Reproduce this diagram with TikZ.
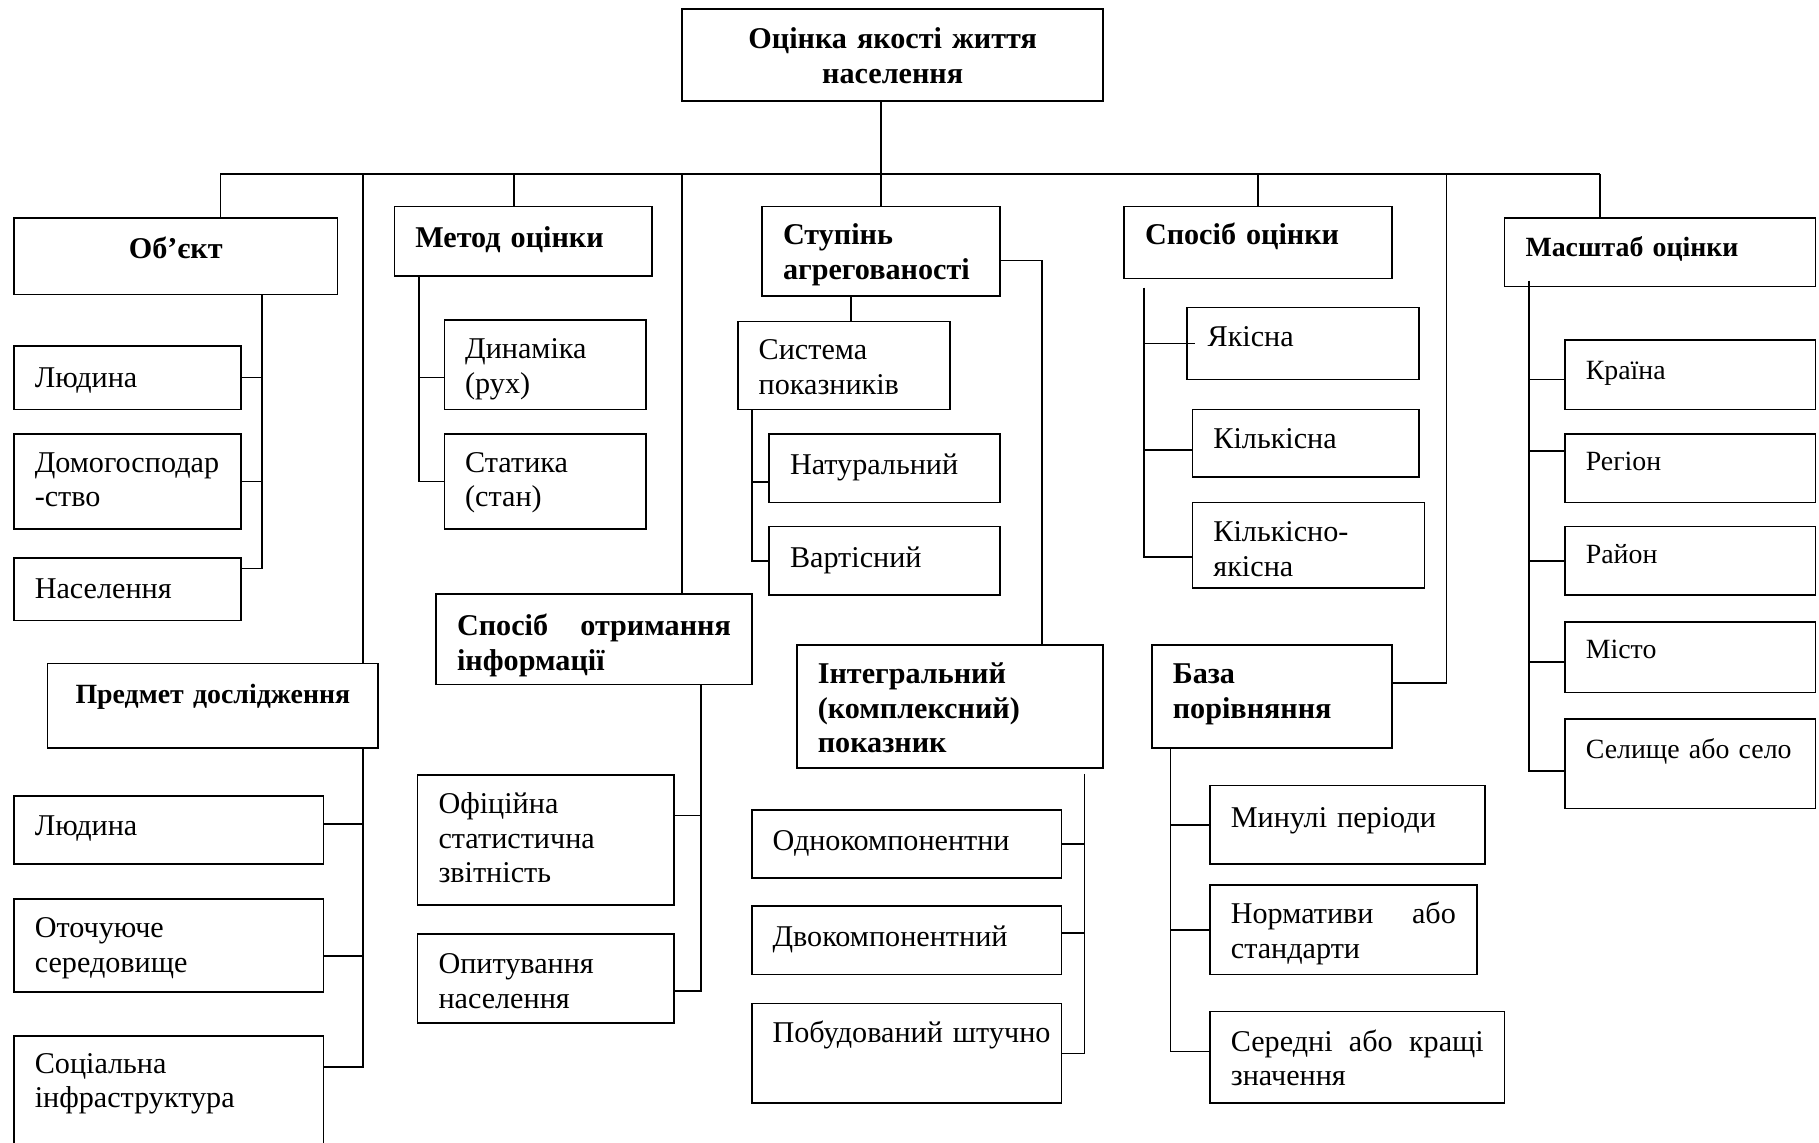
\documentclass[tikz,border=0pt]{standalone}
\usepackage{fontspec}
\setmainfont{Liberation Serif}

\newcommand{\leaffont}{\fontsize{26}{30}\selectfont}
\newcommand{\headfont}{\fontsize{26}{30}\selectfont\bfseries}
\newcommand{\rfont}{\fontsize{24}{28}\selectfont}
\newcommand{\rhead}{\fontsize{24}{28}\selectfont\bfseries}

\tikzset{
  cell/.style n args={3}{text width=#1pt, text height=#2pt, text depth=#3pt},
  box/.style={draw, line width=1.4pt, anchor=base west, inner xsep=18pt, inner ysep=0pt,
    outer sep=0pt, align=left, font=\leaffont},
  head/.style={box, font=\headfont},
  link/.style={line width=1.4pt}
}

\begin{document}
\begin{tikzpicture}[x=1pt, y=-1pt]
  \useasboundingbox (0,0) rectangle (1568,985);

  % root
  \node[head, align=center, cell={327}{34}{45}] (root) at (588,42) {Оцінка якості життя\\населення};

  % object
  \node[head, align=center, cell={243}{35}{31}] (obj) at (12,223) {Об’єкт};
  \node[box, cell={160}{36}{19}] (o1) at (12,334) {Людина};
  \node[box, cell={160}{33}{49}] (o2) at (12,407) {Домогосподар\\-ство};
  \node[box, cell={160}{35}{19}] (o3) at (12,516) {Населення};

  % method
  \node[head, cell={186}{35}{25}] (met) at (340,213) {Метод оцінки};
  \node[box, cell={138}{33}{44}] (m1) at (383,309) {Динаміка\\(рух)};
  \node[box, cell={138}{33}{49}] (m2) at (383,407) {Статика\\(стан)};

  % information
  \node[head, cell={236}{36}{42}] (inf) at (376,548) {Спосіб\hfill отримання\\інформації};
  \node[box, cell={185}{33}{79}] (i1) at (360,701) {Офіційна\\статистична\\звітність};
  \node[box, cell={185}{34}{43}] (i2) at (360,839) {Опитування\\населення};

  % subject
  \node[head, font=\rhead, align=center, cell={249}{34}{39}] (pred) at (41,606) {Предмет дослідження};
  \node[box, cell={231}{34}{25}] (p1) at (12,720) {Людина};
  \node[box, cell={231}{33}{47}] (p2) at (12,808) {Оточуюче\\середовище};
  \node[box, cell={231}{32}{62}] (p3) at (12,925) {Соціальна\\інфраструктура};

  % aggregation
  \node[head, cell={169}{33}{44}] (st) at (657,211) {Ступінь\\агрегованості};
  \node[box, cell={147}{33}{43}] (sys) at (636,310) {Система\\показників};
  \node[box, cell={163}{35}{24}] (s1) at (663,409) {Натуральний};
  \node[box, cell={163}{35}{24}] (s2) at (663,489) {Вартісний};

  \node[head, cell={228}{33}{73}] (intg) at (687,589) {Інтегральний\\(комплексний)\\показник};
  \node[box, cell={231}{35}{24}] (g1) at (648,733) {Однокомпонентни};
  \node[box, cell={231}{35}{24}] (g2) at (648,816) {Двокомпонентний};
  \node[box, cell={231}{34}{52}] (g3) at (648,899) {\mbox{Побудований штучно}};

  % way of assessment
  \node[head, cell={195}{33}{29}] (spo) at (969,211) {Спосіб оцінки};
  \node[box, cell={164}{34}{28}] (c1) at (1023,299) {Якісна};
  \node[box, cell={159}{34}{24}] (c2) at (1028,387) {Кількісна};
  \node[box, cell={164}{34}{40}] (c3) at (1028,467) {Кількісно-\\якісна};

  % comparison base
  \node[head, cell={171}{33}{56}] (baz) at (993,589) {База\\порівняння};
  \node[box, cell={201}{36}{32}] (b1) at (1043,713) {Минулі періоди};
  \node[box, cell={194}{33}{44}] (b2) at (1043,796) {Нормативи\hfill або\\стандарти};
  \node[box, cell={218}{34}{45}] (b3) at (1043,906) {Середні\hfill або\hfill кращі\\значення};

  % scale
  \node[head, font=\rhead, cell={232}{33}{26}] (mas) at (1297,221) {Масштаб оцінки};
  \node[box, font=\rfont, cell={180}{34}{26}] (k1) at (1349,327) {Країна};
  \node[box, font=\rfont, cell={180}{32}{27}] (k2) at (1349,406) {Регіон};
  \node[box, font=\rfont, cell={180}{32}{27}] (k3) at (1349,486) {Район};
  \node[box, font=\rfont, cell={180}{32}{29}] (k4) at (1349,568) {Місто};
  \node[box, font=\rfont, cell={180}{34}{43}] (k5) at (1349,654) {Селище або село};

  % bus
  \coordinate (bl) at (190,150);
  \coordinate (br) at (1379,150);
  \coordinate (bp) at (313,150);
  \coordinate (bm) at (443,150);
  \coordinate (bi) at (588,150);
  \coordinate (bb) at (1247,150);
  \draw[link] (root.south -| st.north) -- (st.north);
  \draw[link] (bl) -- (br);
  \draw[link] (bl) -- (bl |- obj.north);
  \draw[link] (bp) -- (bp |- pred.north);
  \draw[link] (bm) -- (bm |- met.north);
  \draw[link] (bi) -- (bi |- inf.north);
  \draw[link] (spo.north |- bl) -- (spo.north);
  \draw[link] (bb) |- ([yshift=12pt]baz.east);
  \draw[link] (br) -- (br |- mas.north);

  % object
  \coordinate (so) at (226,0);
  \draw[link] (obj.south -| so) |- ([yshift=-9pt]o3.north east);
  \draw[link] (o1.east) -- (o1.east -| so);
  \draw[link] (o2.east) -- (o2.east -| so);

  % method
  \coordinate (sm) at (361,0);
  \draw[link] (met.south -| sm) |- (m2.west);
  \draw[link] ([yshift=-11pt]m1.west) -- ([yshift=-11pt]m1.west -| sm);

  % information
  \coordinate (si) at (604,0);
  \draw[link] (inf.south -| si) |- ([yshift=-11pt]i2.east);
  \draw[link] ([yshift=21pt]i1.east) -- ([yshift=21pt]i1.east -| si);

  % subject
  \coordinate (sp) at (313,0);
  \draw[link] (pred.south -| sp) |- ([yshift=-27pt]p3.north east);
  \draw[link] ([yshift=5pt]p1.east) -- ([yshift=5pt]p1.east -| sp);
  \draw[link] ([yshift=-9pt]p2.east) -- ([yshift=-9pt]p2.east -| sp);

  % aggregation
  \draw[link] ([xshift=6pt]sys.north) -- ([xshift=6pt]sys.north |- st.south);
  \draw[link] ([yshift=-8pt]st.east) -| ([xshift=79pt]intg.north);
  \coordinate (ss) at (648,0);
  \draw[link] (sys.south -| ss) |- (s2.west);
  \draw[link] ([yshift=-12pt]s1.west) -- ([yshift=-12pt]s1.west -| ss);
  \coordinate (sg) at (935,0);
  \draw[link] (intg.south -| sg) ++(0,5) |- (g3.east);
  \draw[link] (g1.east) -- (g1.east -| sg);
  \draw[link] ([yshift=6pt]g2.east) -- ([yshift=6pt]g2.east -| sg);

  % way of assessment
  \coordinate (sc) at (986,0);
  \draw[link] (spo.south -| sc) ++(0,8) |- ([yshift=-10pt]c3.west);
  \draw[link] (c1.west -| sc) -- ([xshift=7pt]c1.west);
  \draw[link] ([yshift=-6pt]c2.west) -- ([yshift=-6pt]c2.west -| sc);

  % comparison base
  \coordinate (sb) at (1009,0);
  \draw[link] (baz.south -| sb) |- ([yshift=5pt]b3.west);
  \draw[link] (b1.west) -- (b1.west -| sb);
  \draw[link] (b2.west) -- (b2.west -| sb);

  % scale
  \coordinate (sk) at (1318,0);
  \draw[link] (mas.south -| sk) ++(0,-5) |- ([yshift=-6pt]k5.west);
  \draw[link] ([yshift=-4pt]k1.west) -- ([yshift=-4pt]k1.west -| sk);
  \draw[link] ([yshift=15pt]k2.west) -- ([yshift=15pt]k2.west -| sk);
  \draw[link] (k3.west) -- (k3.west -| sk);
  \draw[link] ([yshift=-4pt]k4.west) -- ([yshift=-4pt]k4.west -| sk);
\end{tikzpicture}
\end{document}
